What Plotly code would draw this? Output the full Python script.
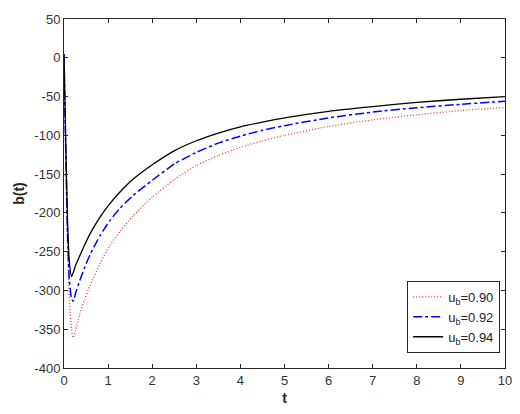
import plotly.graph_objects as go

# time grid
t = [0, 0.04, 0.08, 0.12, 0.17, 0.21, 0.26, 0.36, 0.47, 0.59, 0.82, 1.04, 1.27,
     1.56, 2.0, 2.5, 3.0, 3.5, 4.0, 4.5, 5.0, 6.0, 7.0, 8.0, 9.0, 10.0]

b_090 = [5, -130, -245, -310, -350, -361, -352, -330, -311, -294, -265, -242, -224,
         -204, -180, -157, -139, -126, -115.5, -107, -100, -88.5, -80, -73.5, -68, -64]
b_092 = [5, -120, -225, -285, -310, -314, -304, -287, -270, -254, -229, -210, -194,
         -178, -158, -137, -122, -110, -101, -93.5, -87.5, -77.5, -70, -64.5, -60, -56]
b_094 = [5, -110, -210, -262, -282, -277, -268, -255, -241, -227, -205, -188, -173,
         -157, -138, -120, -107, -97, -89, -83, -77.5, -69, -63, -57.5, -53.5, -50]

labels = ["u<sub>b</sub>=0.90", "u<sub>b</sub>=0.92", "u<sub>b</sub>=0.94"]

x_ticks = list(range(0, 11))
y_ticks = list(range(-400, 51, 50))
y_ticktext = [str(v) for v in y_ticks]

FONT = "Liberation Sans, Arial, sans-serif"

fig = go.Figure()
fig.add_trace(go.Scatter(x=t, y=b_090, mode="lines", name=labels[0],
                         line=dict(color="#f03a3a", dash="1px,2px", width=1.3,
                                   shape="spline", smoothing=0.6)))
fig.add_trace(go.Scatter(x=t, y=b_092, mode="lines", name=labels[1],
                         line=dict(color="#0000ff", dash="dashdot", width=1.5,
                                   shape="spline", smoothing=0.6)))
fig.add_trace(go.Scatter(x=t, y=b_094, mode="lines", name=labels[2],
                         line=dict(color="#000000", width=1.3,
                                   shape="spline", smoothing=0.6)))

axis_common = dict(
    showgrid=False, zeroline=False, showline=True, linecolor="#262626",
    linewidth=1, mirror="ticks", ticks="inside", ticklen=4, tickcolor="#262626",
    automargin=False,
    tickfont=dict(family=FONT, size=13, color="#333333"),
)

fig.update_layout(
    width=512, height=406,
    margin=dict(l=56, r=15, t=11, b=46),
    paper_bgcolor="white", plot_bgcolor="white",
    font=dict(family=FONT, size=13, color="#262626"),
    xaxis=dict(range=[0, 10], tickvals=x_ticks,
               title=dict(text="<b>t</b>", standoff=6,
                          font=dict(size=14)), **axis_common),
    yaxis=dict(range=[-400, 50], tickvals=y_ticks, ticktext=y_ticktext,
               title=dict(text="<b>b(t)</b>", standoff=6,
                          font=dict(size=14)), **axis_common),
    legend=dict(x=0.989, y=0.043, xanchor="right", yanchor="bottom",
                bordercolor="#262626", borderwidth=1, bgcolor="white",
                font=dict(family=FONT, size=13, color="#262626"),
                tracegroupgap=0, itemwidth=30),
    showlegend=True,
)

fig.write_html("out.html")
